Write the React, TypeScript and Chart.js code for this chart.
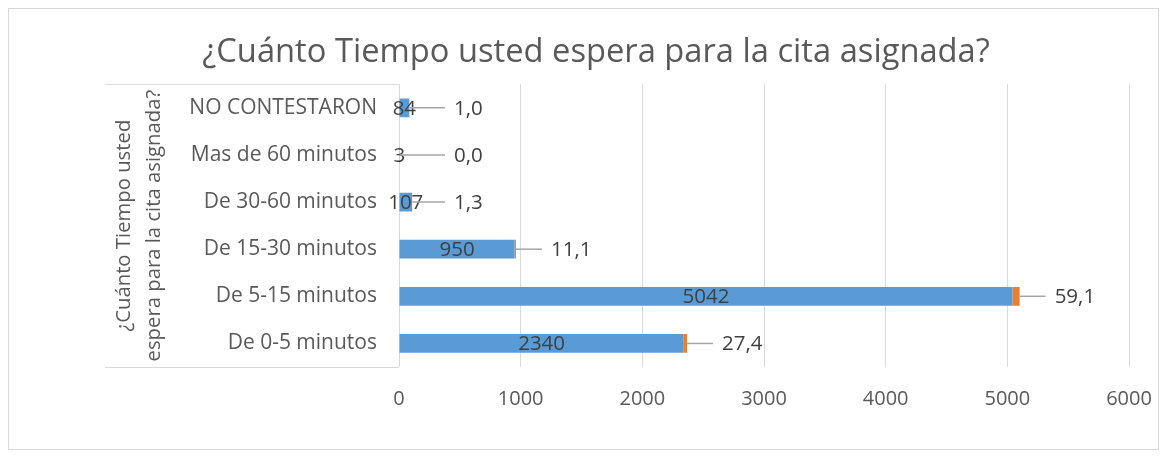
import React, { useEffect, useRef } from "react";
import { Chart, registerables } from "chart.js";

Chart.register(...registerables);

const chartTitle = "¿Cuánto Tiempo usted espera para la cita asignada?";
const axisTitle = ["¿Cuánto Tiempo usted", "espera para la cita asignada?"];
const categories = [
  "NO CONTESTARON",
  "Mas de 60 minutos",
  "De 30-60 minutos",
  "De 15-30 minutos",
  "De 5-15 minutos",
  "De 0-5 minutos",
];
const counts = [84, 3, 107, 950, 5042, 2340];
const percents = [1.0, 0.0, 1.3, 11.1, 59.1, 27.4];
const xTickValues = [0, 1000, 2000, 3000, 4000, 5000, 6000];

const FONT = "Open Sans";
const Y_TITLE_PAD = 47;

const labelPlugin = {
  id: "barLabels",
  afterDatasetsDraw(chart: any) {
    const ctx = chart.ctx;
    const area = chart.chartArea;
    ctx.save();
    ctx.font = `20.5px "${FONT}"`;
    ctx.textBaseline = "middle";
    const m0 = chart.getDatasetMeta(0);
    m0.data.forEach((el: any, i: number) => {
      ctx.fillStyle = "#404040";
      ctx.textAlign = "center";
      ctx.fillText(String(counts[i]), (el.x + el.base) / 2, el.y + 1);
    });
    const m1 = chart.getDatasetMeta(1);
    m1.data.forEach((el: any, i: number) => {
      const start = el.x;
      const end = Math.max(start + 26, area.left + 46);
      ctx.strokeStyle = "#a6a6a6";
      ctx.lineWidth = 1.5;
      ctx.beginPath();
      ctx.moveTo(start, el.y);
      ctx.lineTo(end, el.y);
      ctx.stroke();
      ctx.textAlign = "left";
      ctx.fillStyle = "#404040";
      ctx.fillText(percents[i].toFixed(1).replace(".", ","), end + 9, el.y + 1);
    });
    ctx.restore();
  },
};

const boxPlugin = {
  id: "axisBox",
  afterDraw(chart: any) {
    const { ctx, chartArea } = chart;
    const ys = chart.scales.y;
    const x0 = ys.left + Y_TITLE_PAD - 5;
    ctx.save();
    ctx.strokeStyle = "#d9d9d9";
    ctx.lineWidth = 1;
    [chartArea.top, chartArea.bottom].forEach((yy: number) => {
      const py = Math.round(yy) + 0.5;
      ctx.beginPath();
      ctx.moveTo(x0, py);
      ctx.lineTo(chartArea.left, py);
      ctx.stroke();
    });
    ctx.restore();
  },
};

export default function App() {
  const ref = useRef<HTMLCanvasElement | null>(null);

  useEffect(() => {
    if (!ref.current) return;
    Chart.defaults.font.family = FONT;
    const chart = new Chart(ref.current, {
      type: "bar",
      data: {
        labels: categories,
        datasets: [
          {
            data: counts,
            backgroundColor: "#5b9bd5",
            barPercentage: 0.4,
            categoryPercentage: 1,
          },
          {
            data: percents,
            backgroundColor: "#ed7d31",
            barPercentage: 0.4,
            categoryPercentage: 1,
          },
        ],
      },
      options: {
        indexAxis: "y",
        animation: false,
        responsive: false,
        layout: { padding: { left: 54, right: 29, top: 0, bottom: 36 } },
        plugins: {
          legend: { display: false },
          tooltip: { enabled: false },
          title: {
            display: true,
            text: chartTitle,
            color: "#595959",
            font: { size: 32.7, family: FONT, weight: "normal" },
            padding: { top: 24, bottom: 12 },
          },
        },
        scales: {
          x: {
            stacked: true,
            min: 0,
            max: 6000,
            afterBuildTicks: (s: any) => {
              s.ticks = xTickValues.map((v) => ({ value: v }));
            },
            ticks: {
              color: "#595959",
              font: { size: 20 },
              padding: 2,
              callback: (v: any) => String(v),
            },
            grid: {
              color: "#d9d9d9",
              drawTicks: true,
              tickLength: 18,
              tickColor: "rgba(0,0,0,0)",
              lineWidth: 1,
            },
            border: { display: false },
          },
          y: {
            stacked: true,
            ticks: { color: "#595959", font: { size: 21 }, padding: 22 },
            grid: { display: false, drawTicks: false },
            border: { display: false },
            title: {
              display: true,
              text: axisTitle,
              color: "#595959",
              font: { size: 20.3, lineHeight: 1.45 },
              padding: { top: Y_TITLE_PAD, bottom: 0 },
            },
            afterFit: (s: any) => {
              s.width = 336;
            },
          },
        },
      } as any,
      plugins: [labelPlugin, boxPlugin],
    });
    return () => chart.destroy();
  }, []);

  return (
    <div
      style={{
        width: 1151,
        height: 442,
        border: "1px solid #d9d9d9",
        boxSizing: "border-box",
        background: "#fff",
      }}
    >
      <canvas ref={ref} width={1149} height={440} style={{ display: "block" }} />
    </div>
  );
}
